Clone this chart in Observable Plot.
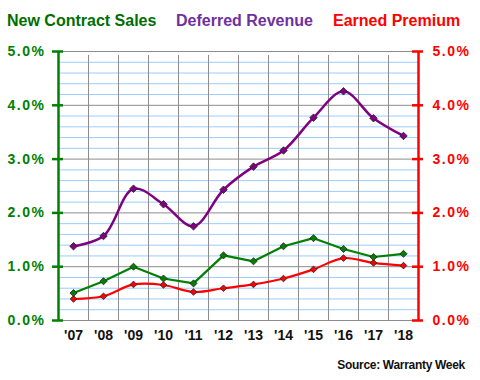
<!DOCTYPE html>
<html>
<head>
<meta charset="utf-8">
<script src="https://cdn.jsdelivr.net/npm/d3@7"></script>
<script src="https://cdn.jsdelivr.net/npm/@observablehq/plot@0.6"></script>
<style>
  html, body { margin: 0; padding: 0; background: #fff; }
  #wrap { position: relative; width: 480px; height: 380px; font-family: "Liberation Sans", Arial, sans-serif; }
  .leg { position: absolute; top: 13px; font-size: 16px; font-weight: bold; line-height: 16px; white-space: nowrap; }
  #src { position: absolute; top: 359px; right: 15px; font-size: 12px; font-weight: bold; line-height: 12px; color: #111; letter-spacing: -0.3px; white-space: nowrap; }
  svg { position: absolute; left: 0; top: 0; }
</style>
</head>
<body>
<div id="wrap">
  <div class="leg" style="left:7px;color:#006e00">New Contract Sales</div>
  <div class="leg" style="left:176px;color:#7030a0">Deferred Revenue</div>
  <div class="leg" style="left:333px;color:#ff0000">Earned Premium</div>
  <div id="src">Source: Warranty Week</div>
</div>
<script>
const years = ["'07","'08","'09","'10","'11","'12","'13","'14","'15","'16","'17","'18"];
const newContractSales = [0.51,0.73,1.00,0.78,0.69,1.21,1.10,1.38,1.53,1.33,1.18,1.24];
const deferredRevenue  = [1.38,1.57,2.45,2.16,1.75,2.43,2.86,3.16,3.77,4.26,3.76,3.43];
const earnedPremium    = [0.40,0.45,0.67,0.66,0.53,0.60,0.67,0.78,0.95,1.16,1.07,1.02];
const yTicks = [0,1,2,3,4,5];

const idx = years.map((_, i) => i);
const bounds = d3.range(years.length + 1).map(i => i - 0.5);
const minor = d3.range(0, 5.01, 0.2).map(v => Math.round(v * 10) / 10).filter(v => Math.abs(v - Math.round(v)) > 1e-6);
const mk = arr => arr.map((v, i) => ({i, v}));

const font = "'Liberation Sans', Arial, sans-serif";
const chart = Plot.plot({
  width: 480, height: 380,
  marginLeft: 58, marginRight: 62, marginTop: 51, marginBottom: 60,
  style: {fontFamily: font, background: "transparent"},
  x: {type: "linear", domain: [-0.5, years.length - 0.5]},
  y: {type: "linear", domain: [0, 5]},
  marks: [
    Plot.ruleY(minor, {stroke: "#99ccff", strokeWidth: 1}),
    Plot.ruleY(yTicks, {stroke: "#8c8c8c", strokeWidth: 1}),
    Plot.ruleX(bounds, {y1: 0, y2: 5, stroke: "#8c8c8c", strokeWidth: 1, insetBottom: -4}),
    // left axis
    Plot.ruleX([-0.5], {y1: 0, y2: 5, stroke: "#008000", strokeWidth: 2.5}),
    Plot.ruleY(yTicks, {x1: -0.5, x2: -0.5, insetLeft: -6, insetRight: -5, stroke: "#008000", strokeWidth: 2.5}),
    Plot.axisY(yTicks, {anchor: "left", label: null, tickSize: 0, tickPadding: 13, tickFormat: d => d.toFixed(1) + "%", fill: "#008000", fontSize: 14, fontWeight: "bold"}),
    // right axis
    Plot.ruleX([years.length - 0.5], {y1: 0, y2: 5, stroke: "#ff0000", strokeWidth: 2.5}),
    Plot.ruleY(yTicks, {x1: years.length - 0.5, x2: years.length - 0.5, insetLeft: -6, insetRight: -5, stroke: "#ff0000", strokeWidth: 2.5}),
    Plot.axisY(yTicks, {anchor: "right", label: null, tickSize: 0, tickPadding: 14, tickFormat: d => d.toFixed(1) + "%", fill: "#ff0000", fontSize: 14, fontWeight: "bold"}),
    // x axis
    Plot.axisX(idx, {label: null, tickSize: 0, tickPadding: 10, tickFormat: i => years[i], fill: "#111", fontSize: 14, fontWeight: "bold"}),
    // series
    Plot.line(mk(deferredRevenue), {x: "i", y: "v", stroke: "#800080", strokeWidth: 2.5, curve: "catmull-rom"}),
    Plot.line(mk(earnedPremium), {x: "i", y: "v", stroke: "#ff0000", strokeWidth: 2.2, curve: "catmull-rom"}),
    Plot.line(mk(newContractSales), {x: "i", y: "v", stroke: "#008000", strokeWidth: 2.2}),
    Plot.dot(mk(deferredRevenue), {x: "i", y: "v", symbol: "diamond2", r: 3.4, fill: "#800080", stroke: "#222", strokeWidth: 0.8}),
    Plot.dot(mk(earnedPremium), {x: "i", y: "v", symbol: "diamond2", r: 3, fill: "#ff0000", stroke: "#222", strokeWidth: 0.8}),
    Plot.dot(mk(newContractSales), {x: "i", y: "v", symbol: "diamond2", r: 3.2, fill: "#008000", stroke: "#222", strokeWidth: 0.8})
  ]
});
d3.select(chart).selectAll('g[aria-label="y-axis tick label"] text').attr("letter-spacing", "1.5px");
document.getElementById("wrap").appendChild(chart);
</script>
</body>
</html>
